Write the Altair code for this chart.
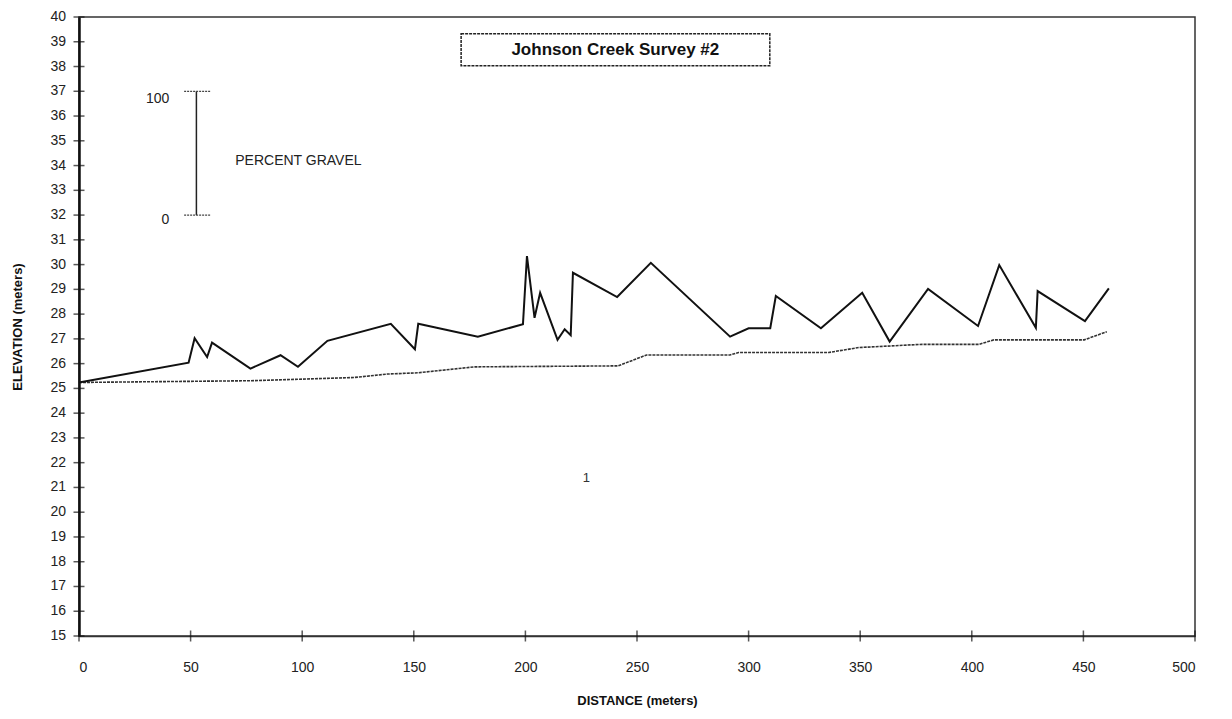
import altair as alt
import pandas as pd

# Upper profile (bank / bed elevation)
upper_x = [0, 49.1, 51.8, 57.4, 59.6, 76.8, 90.3, 98.1, 111.3, 139.7, 150.5, 152.0,
           178.7, 198.9, 200.7, 204.1, 206.6, 214.4, 217.6, 220.3, 221.3, 241.1,
           256.2, 291.7, 300.0, 309.7, 312.2, 332.4, 350.9, 363.2, 380.4, 402.8,
           412.3, 428.7, 429.5, 450.7, 461.4]
upper_y = [25.24, 26.04, 27.03, 26.27, 26.85, 25.80, 26.34, 25.87, 26.92, 27.61,
           26.58, 27.61, 27.09, 27.59, 30.34, 27.85, 28.86, 26.96, 27.39, 27.15,
           29.67, 28.69, 30.07, 27.09, 27.43, 27.43, 28.73, 27.43, 28.86, 26.89,
           29.02, 27.52, 29.98, 27.45, 28.93, 27.72, 29.04]

# Lower profile
lower_x = [0, 76.8, 123.2, 138.2, 151.8, 177.1, 241.5, 254.3, 291.7, 295.5, 335.9,
           349.4, 377.8, 403.3, 409.8, 450.4, 460.5]
lower_y = [25.24, 25.31, 25.44, 25.58, 25.63, 25.87, 25.91, 26.35, 26.35, 26.45,
           26.45, 26.65, 26.78, 26.78, 26.96, 26.96, 27.29]

# Percent gravel scale bar (annotation, data coordinates)
bar_x = [52.6]
bar_y = [32.0]
bar_y2 = [37.0]
cap_x = [47.1]
cap_x2 = [58.9]
cap_y = [32.0, 37.0]
bar_labels = ["0", "100"]
bar_label_x = [40.5, 40.5]
bar_label_y = [31.8, 36.7]
gravel_label = ["PERCENT GRAVEL"]
gravel_label_x = [70.0]
gravel_label_y = [34.2]

# Title box
title_text = ["Johnson Creek Survey #2"]
title_x = [240.3]
title_y = [38.67]
box_x = [171.2]
box_x2 = [309.5]
box_y = [38.03]
box_y2 = [39.32]

# stray label
note_text = ["1"]
note_x = [227.3]
note_y = [21.4]

x_ticks = list(range(0, 501, 50))
y_ticks = list(range(15, 41, 1))
x_min = [0]
y_min = [15]

xs = alt.Scale(domain=[0, 500], nice=False)
ys = alt.Scale(domain=[15, 40], nice=False)

FONT = "Liberation Sans"

df_up = pd.DataFrame({"x": upper_x, "y": upper_y})
df_lo = pd.DataFrame({"x": lower_x, "y": lower_y})

xaxis = alt.Axis(values=x_ticks, title="DISTANCE (meters)", grid=False,
                 labelFont=FONT, labelFontSize=14, labelColor="#222",
                 titleFont=FONT, titleFontSize=13, titleFontWeight="bold",
                 titleColor="#111", titlePadding=20, labelPadding=24,
                 ticks=False, domainColor="#333", domainWidth=1.5,
                 labelOverlap=False)
yaxis = alt.Axis(values=y_ticks, title="ELEVATION (meters)", grid=False,
                 labels=False, ticks=False,
                 titleFont=FONT, titleFontSize=13, titleFontWeight="bold",
                 titleColor="#111", titlePadding=55,
                 domainColor="#111", domainWidth=2.5)

upper = alt.Chart(df_up).mark_line(color="#111", strokeWidth=2).encode(
    x=alt.X("x:Q", scale=xs, axis=xaxis),
    y=alt.Y("y:Q", scale=ys, axis=yaxis),
    order="x:Q",
)
lower = alt.Chart(df_lo).mark_line(color="#333", strokeWidth=1.6, strokeDash=[3, 1]).encode(
    x=alt.X("x:Q", scale=xs),
    y=alt.Y("y:Q", scale=ys),
    order="x:Q",
)

df_yt = pd.DataFrame({"y": y_ticks, "x": x_min * len(y_ticks),
                      "t": [str(v) for v in y_ticks]})
# crossing tick marks on both axes
ytick_marks = alt.Chart(df_yt).mark_tick(
    orient="horizontal", size=11, thickness=1.5, color="#111").encode(
    x=alt.X("x:Q", scale=xs), y=alt.Y("y:Q", scale=ys))
ytick_labels = alt.Chart(df_yt).mark_text(
    font=FONT, fontSize=14, align="right", baseline="middle", dx=-13, color="#222").encode(
    x=alt.X("x:Q", scale=xs), y=alt.Y("y:Q", scale=ys), text="t:N")
xtick_marks = alt.Chart(pd.DataFrame({"x": x_ticks, "y": y_min * len(x_ticks)})).mark_tick(
    orient="vertical", size=11, thickness=1.5, color="#111").encode(
    x=alt.X("x:Q", scale=xs), y=alt.Y("y:Q", scale=ys))

bar = alt.Chart(pd.DataFrame({"x": bar_x, "y": bar_y, "y2": bar_y2})).mark_rule(
    color="#222", strokeWidth=1.5).encode(
    x=alt.X("x:Q", scale=xs), y=alt.Y("y:Q", scale=ys), y2="y2:Q")
caps = alt.Chart(pd.DataFrame({"x": cap_x * 2, "x2": cap_x2 * 2, "y": cap_y})).mark_rule(
    color="#444", strokeWidth=1.2, strokeDash=[2, 1]).encode(
    x=alt.X("x:Q", scale=xs), x2="x2:Q", y=alt.Y("y:Q", scale=ys))
bar_txt = alt.Chart(pd.DataFrame({"x": bar_label_x, "y": bar_label_y, "t": bar_labels})).mark_text(
    font=FONT, fontSize=14, align="right", baseline="middle", color="#222").encode(
    x=alt.X("x:Q", scale=xs), y=alt.Y("y:Q", scale=ys), text="t:N")
grav_txt = alt.Chart(pd.DataFrame({"x": gravel_label_x, "y": gravel_label_y, "t": gravel_label})).mark_text(
    font=FONT, fontSize=14, align="left", baseline="middle", color="#222").encode(
    x=alt.X("x:Q", scale=xs), y=alt.Y("y:Q", scale=ys), text="t:N")

box = alt.Chart(pd.DataFrame({"x": box_x, "x2": box_x2, "y": box_y, "y2": box_y2})).mark_rect(
    fill="white", stroke="#222", strokeWidth=1.5, strokeDash=[3, 1]).encode(
    x=alt.X("x:Q", scale=xs), x2="x2:Q", y=alt.Y("y:Q", scale=ys), y2="y2:Q")
title = alt.Chart(pd.DataFrame({"x": title_x, "y": title_y, "t": title_text})).mark_text(
    font=FONT, fontSize=17, fontWeight="bold", align="center", baseline="middle", color="#111").encode(
    x=alt.X("x:Q", scale=xs), y=alt.Y("y:Q", scale=ys), text="t:N")
note = alt.Chart(pd.DataFrame({"x": note_x, "y": note_y, "t": note_text})).mark_text(
    font=FONT, fontSize=13, align="center", baseline="middle", color="#333").encode(
    x=alt.X("x:Q", scale=xs), y=alt.Y("y:Q", scale=ys), text="t:N")

chart = alt.layer(lower, upper, ytick_marks, ytick_labels, xtick_marks, bar, caps, bar_txt,
                  grav_txt, box, title, note).properties(
    width=1116, height=619,
    autosize=alt.AutoSizeParams(type="none"),
    padding={"left": 71, "top": 9, "right": 20, "bottom": 76},
    background="white",
).configure_view(stroke="#333", strokeWidth=1.5)

chart.save("out.html", embed_options={"renderer": "svg", "actions": False})
